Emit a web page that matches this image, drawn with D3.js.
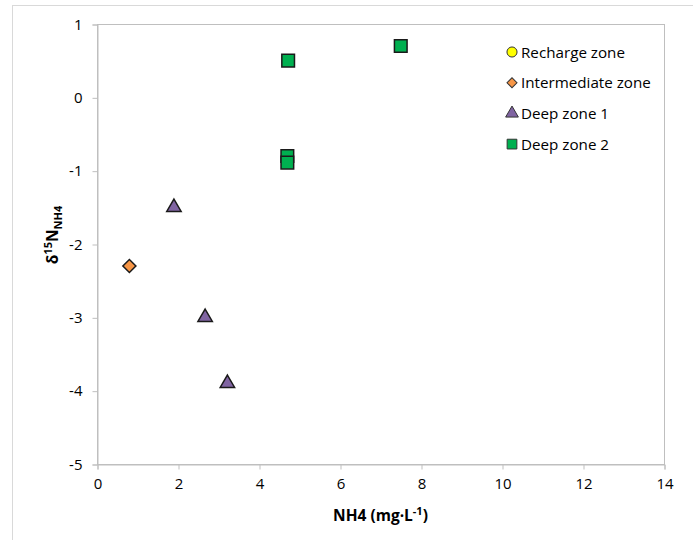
<!DOCTYPE html>
<html>
<head>
<meta charset="utf-8">
<script src="https://cdn.jsdelivr.net/npm/d3@7"></script>
<style>
  html, body { margin: 0; padding: 0; background: #fff; }
  svg { display: block; }
  text { font-family: "Open Sans", "Liberation Sans", sans-serif; fill: #000; }
</style>
</head>
<body>
<svg id="chart" width="693" height="540"></svg>
<script>
// Series: NH4 concentration (mg·L-1) vs δ15N of NH4
const rechargeX = [];
const rechargeY = [];
const intermediateX = [0.8];
const intermediateY = [-2.3];
const deep1X = [1.9, 2.67, 3.22];
const deep1Y = [-1.5, -3.0, -3.9];
const deep2X = [4.72, 7.5, 4.7, 4.7];
const deep2Y = [0.5, 0.7, -0.8, -0.89];

const xTicks = [0, 2, 4, 6, 8, 10, 12, 14];
const yTicks = [1, 0, -1, -2, -3, -4, -5];

const seriesNames = ["Recharge zone", "Intermediate zone", "Deep zone 1", "Deep zone 2"];
const seriesColors = ["#FFFF00", "#F79646", "#8064A2", "#00B050"];
// diamond = square turned 45°
const seriesShapes = [d3.symbolCircle, d3.symbolSquare, d3.symbolTriangle, d3.symbolSquare];
const seriesRotate = [0, 45, 0, 0];

const svg = d3.select("#chart");
const plot = { left: 97, right: 664, top: 24, bottom: 464 };

// outer chart frame (partly outside the visible area)
svg.append("rect")
  .attr("x", 12.5).attr("y", 5.5)
  .attr("width", 700).attr("height", 560)
  .attr("fill", "none").attr("stroke", "#d9d9d9").attr("stroke-width", 1);

const x = d3.scaleLinear().domain([0, 14]).range([plot.left, plot.right]);
const y = d3.scaleLinear().domain([-5, 1]).range([plot.bottom, plot.top]);

// plot area border
svg.append("rect")
  .attr("x", plot.left + 0.5).attr("y", plot.top + 0.5)
  .attr("width", plot.right - plot.left).attr("height", plot.bottom - plot.top)
  .attr("fill", "none").attr("stroke", "#bfbfbf").attr("stroke-width", 1);

const xAxis = svg.append("g")
  .attr("transform", `translate(0.5,${plot.bottom + 0.5})`)
  .call(d3.axisBottom(x).tickValues(xTicks).tickSize(5).tickPadding(9).tickFormat(d3.format("d")));
const yAxis = svg.append("g")
  .attr("transform", `translate(${plot.left + 0.5},0.5)`)
  .call(d3.axisLeft(y).tickValues(yTicks).tickSize(5).tickPadding(10).tickFormat(d => d < 0 ? "-" + Math.abs(d) : d));

[xAxis, yAxis].forEach(a => {
  a.select(".domain").attr("stroke", "#bfbfbf");
  a.selectAll(".tick line").attr("stroke", "#bfbfbf");
  a.selectAll(".tick text")
    .style("font-family", "'Open Sans', sans-serif")
    .style("font-size", "15px").attr("fill", "#000");
});

// axis titles
const xt = svg.append("text")
  .attr("x", (plot.left + plot.right) / 2).attr("y", 521)
  .attr("text-anchor", "middle")
  .style("font-size", "15.5px").style("font-weight", "bold");
xt.append("tspan").text("NH4 (mg·L");
xt.append("tspan").attr("dy", -6).style("font-size", "11px").text("-1");
xt.append("tspan").attr("dy", 6).text(")");

const yt = svg.append("text")
  .attr("transform", `translate(58,235) rotate(-90)`)
  .attr("text-anchor", "middle")
  .style("font-size", "15.5px").style("font-weight", "bold");
yt.append("tspan").text("δ");
yt.append("tspan").attr("dy", -6).style("font-size", "11px").text("15");
yt.append("tspan").attr("dy", 6).text("N");
yt.append("tspan").attr("dy", 4).style("font-size", "11px").text("NH4");

// markers
const groups = [
  [rechargeX, rechargeY],
  [intermediateX, intermediateY],
  [deep1X, deep1Y],
  [deep2X, deep2Y]
];
const sizes = [90, 85, 90, 160];

groups.forEach(([xs, ys], i) => {
  const pts = xs.map((v, j) => ({ x: v, y: ys[j] }));
  svg.append("g").selectAll("path")
    .data(pts).join("path")
    .attr("transform", d => `translate(${x(d.x)},${y(d.y)}) rotate(${seriesRotate[i]})`)
    .attr("d", d3.symbol().type(seriesShapes[i]).size(sizes[i]))
    .attr("fill", seriesColors[i])
    .attr("stroke", "#1a1a1a").attr("stroke-width", 1.5);
});

// legend
const legend = svg.append("g");
const legendSizes = [80, 50, 70, 95];
seriesNames.forEach((name, i) => {
  const ly = 52 + i * 30.7;
  legend.append("path")
    .attr("transform", `translate(512,${ly}) rotate(${seriesRotate[i]})`)
    .attr("d", d3.symbol().type(seriesShapes[i]).size(legendSizes[i]))
    .attr("fill", seriesColors[i])
    .attr("stroke", "#333").attr("stroke-width", 1);
  legend.append("text")
    .attr("x", 521).attr("y", ly + 5.5)
    .style("font-size", "15.2px")
    .text(name);
});
</script>
</body>
</html>
